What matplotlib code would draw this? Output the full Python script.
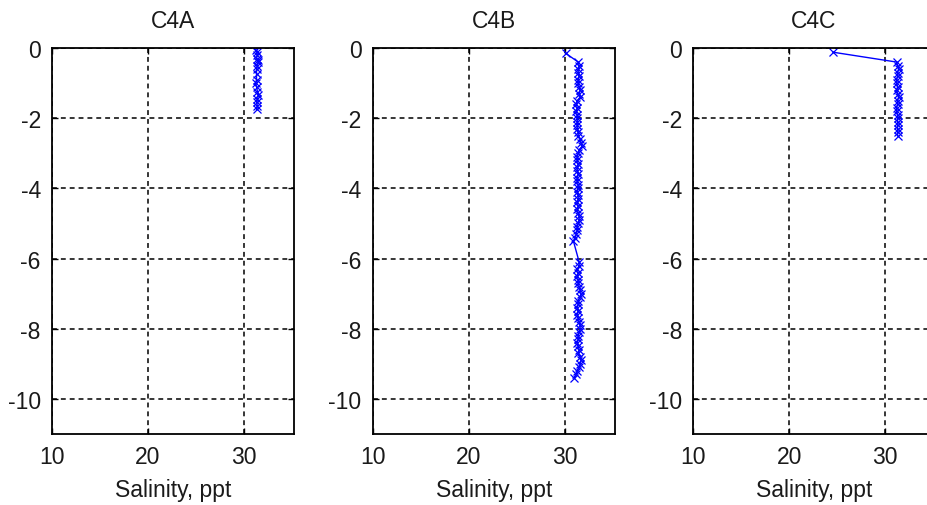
import matplotlib
matplotlib.use('Agg')
import matplotlib.pyplot as plt

plt.rcParams['font.family'] = ['Liberation Sans', 'DejaVu Sans']
plt.rcParams['axes.unicode_minus'] = False

titles = ['C4A', 'C4B', 'C4C']

# station C4A
c4a_depth = [-0.05, -0.1, -0.2, -0.3, -0.35, -0.4, -0.5, -0.6, -0.75, -0.9,
             -1.0, -1.1, -1.25, -1.35, -1.45, -1.55, -1.65, -1.75]
c4a_sal = [31.2, 31.3, 31.4, 31.3, 31.5, 31.5, 31.4, 31.3, 31.3, 31.3,
           31.2, 31.3, 31.4, 31.5, 31.4, 31.3, 31.4, 31.3]

# station C4B
c4b_depth = [-0.15,
             -0.4, -0.5, -0.6, -0.7, -0.8, -0.9, -1.0, -1.1, -1.2, -1.3,
             -1.4, -1.5, -1.6, -1.7, -1.8, -1.9, -2.0, -2.1, -2.2, -2.3,
             -2.4, -2.5, -2.6, -2.7, -2.8, -2.9, -3.0, -3.1, -3.2, -3.3,
             -3.4, -3.5, -3.6, -3.7, -3.8, -3.9, -4.0, -4.1, -4.2, -4.3,
             -4.4, -4.5, -4.6, -4.7, -4.8, -4.9, -5.0, -5.1, -5.2, -5.3,
             -5.4, -5.5,
             -6.1, -6.2, -6.3, -6.4, -6.5, -6.6, -6.7, -6.8, -6.9, -7.0,
             -7.1, -7.2, -7.3, -7.4, -7.5, -7.6, -7.7, -7.8, -7.9, -8.0,
             -8.1, -8.2, -8.3, -8.4, -8.5, -8.6, -8.7, -8.8, -8.9, -9.0,
             -9.1, -9.2, -9.3, -9.4]
c4b_sal = [30.1,
           31.4, 31.5, 31.4, 31.4, 31.5, 31.4, 31.4, 31.5, 31.6, 31.5,
           31.6, 31.3, 31.2, 31.3, 31.2, 31.3, 31.3, 31.3, 31.3, 31.3,
           31.4, 31.4, 31.6, 31.7, 31.8, 31.5, 31.4, 31.3, 31.3, 31.4,
           31.3, 31.3, 31.4, 31.3, 31.3, 31.4, 31.4, 31.3, 31.4, 31.4,
           31.3, 31.4, 31.3, 31.4, 31.5, 31.5, 31.4, 31.3, 31.3, 31.2,
           31.1, 30.9,
           31.5, 31.5, 31.3, 31.4, 31.3, 31.4, 31.4, 31.5, 31.6, 31.7,
           31.6, 31.4, 31.4, 31.3, 31.4, 31.3, 31.4, 31.5, 31.6, 31.6,
           31.5, 31.4, 31.4, 31.3, 31.4, 31.5, 31.4, 31.6, 31.7, 31.6,
           31.5, 31.3, 31.2, 31.0]

# station C4C
c4c_depth = [-0.12,
             -0.4, -0.5, -0.6, -0.7, -0.8, -0.9, -1.0, -1.1, -1.2, -1.3,
             -1.4, -1.5, -1.6, -1.7, -1.8, -1.9, -2.0, -2.1, -2.2, -2.3,
             -2.4, -2.5]
c4c_sal = [24.6,
           31.2, 31.3, 31.4, 31.3, 31.3, 31.2, 31.2, 31.3, 31.2, 31.3,
           31.4, 31.3, 31.3, 31.2, 31.2, 31.3, 31.3, 31.3, 31.3, 31.3,
           31.3, 31.3]

profiles = [(c4a_sal, c4a_depth), (c4b_sal, c4b_depth), (c4c_sal, c4c_depth)]

x_ticks = [10, 20, 30]
y_ticks = [0, -2, -4, -6, -8, -10]

fig = plt.figure(figsize=(9.28, 5.06), dpi=100)

lefts = [0.056, 0.4016, 0.7468]
for i in range(3):
    ax = fig.add_axes([lefts[i], 0.1403, 0.2608, 0.7628])
    sal, depth = profiles[i]
    ax.plot(sal, depth, color='#0000ff', linewidth=1.0, marker='x',
            markersize=6, markeredgewidth=0.9)
    ax.set_xlim(10, 35.2)
    ax.set_ylim(-11, 0)
    ax.set_xticks(x_ticks)
    ax.set_yticks(y_ticks)
    ax.set_xticklabels([str(v) for v in x_ticks])
    ax.set_yticklabels([str(v) for v in y_ticks])
    ax.grid(True, color='black', linestyle=(0, (3.2, 2.6)), linewidth=1.1)
    ax.tick_params(direction='in', length=4, width=1, top=True, right=True,
                   labelsize=16.5, labelcolor='#1a1a1a', pad=8)
    for s in ax.spines.values():
        s.set_linewidth(1.3)
    ax.set_title(titles[i], fontsize=16.5, color='#1a1a1a', pad=15)
    ax.set_xlabel('Salinity, ppt', fontsize=16.5, color='#1a1a1a', labelpad=7)

fig.savefig('out.png', dpi=100)
